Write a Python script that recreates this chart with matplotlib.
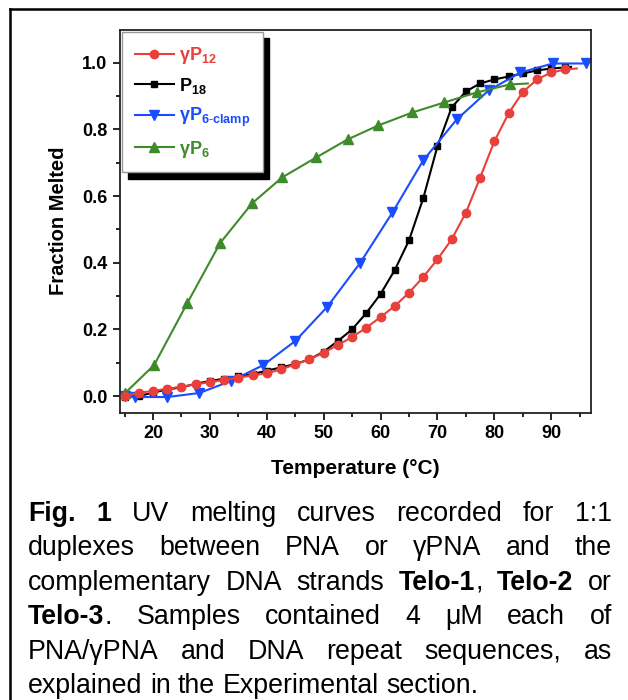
import numpy as np
import matplotlib.pyplot as plt
from matplotlib.lines import Line2D

plt.rcParams['font.family'] = ['Liberation Sans', 'DejaVu Sans']
plt.rcParams['mathtext.fontset'] = 'custom'
plt.rcParams['mathtext.bf'] = 'Liberation Sans:bold'
plt.rcParams['mathtext.rm'] = 'Liberation Sans'

# --- data ---
# gammaP12 and P18 share a 2.5 degree grid
t_grid = [15, 17.5, 20, 22.5, 25, 27.5, 30, 32.5, 35, 37.5, 40, 42.5, 45, 47.5,
          50, 52.5, 55, 57.5, 60, 62.5, 65, 67.5, 70, 72.5, 75, 77.5, 80, 82.5,
          85, 87.5, 90, 92.5]
gp12 = [0.0, 0.01, 0.015, 0.022, 0.028, 0.035, 0.042, 0.048, 0.055, 0.062,
        0.068, 0.080, 0.095, 0.11, 0.13, 0.153, 0.177, 0.205, 0.237, 0.27,
        0.31, 0.357, 0.41, 0.47, 0.55, 0.655, 0.764, 0.848, 0.912, 0.95,
        0.971, 0.98]
p18 = [-0.003, 0.0, 0.01, 0.02, 0.026, 0.037, 0.045, 0.052, 0.059, 0.066,
       0.076, 0.086, 0.096, 0.11, 0.133, 0.165, 0.20, 0.249, 0.306, 0.378,
       0.467, 0.593, 0.749, 0.866, 0.914, 0.938, 0.95, 0.959, 0.968, 0.977,
       0.983, 0.986]
# curve tails drawn past the last marker
gp12_tail = (94.5, 0.983)
p18_tail = (93.5, 0.988)

t_clamp = [15.1, 16.8, 22.5, 28.1, 33.7, 39.4, 45.0, 50.6, 56.4, 62.1, 67.5,
           73.4, 79.0, 84.6, 90.3, 96.1]
gp6_clamp = [0.0, -0.003, -0.003, 0.009, 0.045, 0.093, 0.165, 0.267, 0.399,
             0.551, 0.707, 0.830, 0.917, 0.971, 0.998, 0.998]

t_gp6 = [15.1, 20.2, 26.0, 31.8, 37.4, 42.7, 48.7, 54.2, 59.6, 65.6, 71.2,
         76.9, 82.7]
gp6 = [0.009, 0.093, 0.278, 0.459, 0.578, 0.656, 0.716, 0.770, 0.812, 0.851,
       0.881, 0.911, 0.935]
gp6_tail = (85.9, 0.938)

labels = [r'γP$_{\mathbf{12}}$', r'P$_{\mathbf{18}}$',
          r'γP$_{\mathbf{6\text{-}clamp}}$', r'γP$_{\mathbf{6}}$']
colors = ['#e8403a', '#000000', '#1a4dff', '#3f8a2a']

caption = [
    [[('Fig.', True)], [('1', True)], [('UV', False)], [('melting', False)],
     [('curves', False)], [('recorded', False)], [('for', False)], [('1:1', False)]],
    [[('duplexes', False)], [('between', False)], [('PNA', False)], [('or', False)],
     [('γPNA', False)], [('and', False)], [('the', False)]],
    [[('complementary', False)], [('DNA', False)], [('strands', False)],
     [('Telo-1', True), (',', False)], [('Telo-2', True)], [('or', False)]],
    [[('Telo-3', True), ('.', False)], [('Samples', False)], [('contained', False)],
     [('4', False)], [('μM', False)], [('each', False)], [('of', False)]],
    [[('PNA/γPNA', False)], [('and', False)], [('DNA', False)], [('repeat', False)],
     [('sequences,', False)], [('as', False)]],
    [[('explained', False)], [('in', False)], [('the', False)],
     [('Experimental', False)], [('section.', False)]],
]

W, H = 628, 700
fig = plt.figure(figsize=(W / 100, H / 100), dpi=100)
ax = fig.add_axes([120 / W, 1 - 412.7 / H, 471 / W, 383.2 / H])

def with_tail(x, y, tail):
    return list(x) + [tail[0]], list(y) + [tail[1]]

x, y = with_tail(t_grid, gp12, gp12_tail)
ax.plot(x, y, '-o', color=colors[0], ms=6, lw=1.5, markevery=list(range(len(t_grid))),
        label=labels[0], zorder=3)
x, y = with_tail(t_grid, p18, p18_tail)
ax.plot(x, y, '-s', color=colors[1], ms=5, lw=1.5, markevery=list(range(len(t_grid))),
        label=labels[1], zorder=2)
ax.plot(t_clamp, gp6_clamp, '-v', color=colors[2], ms=7, lw=1.5,
        label=labels[2], zorder=2)
x, y = with_tail(t_gp6, gp6, gp6_tail)
ax.plot(x, y, '-^', color=colors[3], ms=7, lw=1.5, markevery=list(range(len(t_gp6))),
        label=labels[3], zorder=2)

ax.set_xlim(14.2, 97.0)
ax.set_ylim(-0.05, 1.1)
ax.set_xticks(np.arange(20, 91, 10))
ax.set_xticks(np.arange(15, 96, 10), minor=True)
ax.set_yticks(np.arange(0, 1.01, 0.2))
ax.set_yticks(np.arange(0.1, 1.01, 0.2), minor=True)
ax.set_yticklabels([f'{v:.1f}' for v in np.arange(0, 1.01, 0.2)])
ax.tick_params(which='both', direction='out', top=False, right=False, width=1.2)
ax.tick_params(which='major', length=5, labelsize=13, pad=4)
ax.tick_params(which='minor', length=3)
for lab in ax.get_xticklabels() + ax.get_yticklabels():
    lab.set_fontweight('bold')
for sp in ax.spines.values():
    sp.set_linewidth(1.3)
    sp.set_color('#222222')

ax.set_xlabel('Temperature (°C)', fontsize=15, fontweight='bold', labelpad=12)
ax.set_ylabel('Fraction Melted', fontsize=14.5, fontweight='bold', labelpad=10)

leg = ax.legend(loc='upper left', bbox_to_anchor=(0.004, 0.993), borderaxespad=0,
                fancybox=False, edgecolor='#999999', framealpha=1,
                shadow={'ox': 4.5, 'oy': -4.5, 'facecolor': 'black',
                        'edgecolor': 'black', 'alpha': 1},
                prop={'weight': 'bold', 'size': 13}, handlelength=2.2,
                labelspacing=0.55, borderpad=0.7, handletextpad=0.25)
leg.get_frame().set_linewidth(1.0)
for txt, c in zip(leg.get_texts(), colors):
    txt.set_color(c)

# outer frame (left and top edges visible)
fig.add_artist(Line2D([10 / W, 10 / W], [0, 1 - 9 / H], color='black', lw=1.8))
fig.add_artist(Line2D([10 / W, 1], [1 - 9 / H, 1 - 9 / H], color='black', lw=1.8))

# justified caption
renderer = fig.canvas.get_renderer()
cap_size = 19.3
left_px, right_px = 28, 612
base0, step = 521, 34.4

def seg_width(s, bold):
    t = fig.text(0, 0, s, fontsize=cap_size, fontweight='bold' if bold else 'normal')
    w = t.get_window_extent(renderer).width
    t.remove()
    return w

space_w = seg_width('a a', False) - seg_width('aa', False)
for i, words in enumerate(caption):
    widths = [[seg_width(s, b) for s, b in word] for word in words]
    total = sum(sum(w) for w in widths)
    if i < len(caption) - 1:
        gap = (right_px - left_px - total) / (len(words) - 1)
    else:
        gap = space_w
    xpos = left_px
    ypx = base0 + i * step
    for word, ws in zip(words, widths):
        for (s, b), w in zip(word, ws):
            fig.text(xpos / W, 1 - ypx / H, s, fontsize=cap_size,
                     fontweight='bold' if b else 'normal', va='baseline', ha='left')
            xpos += w
        xpos += gap

fig.savefig('out.png', dpi=100)
